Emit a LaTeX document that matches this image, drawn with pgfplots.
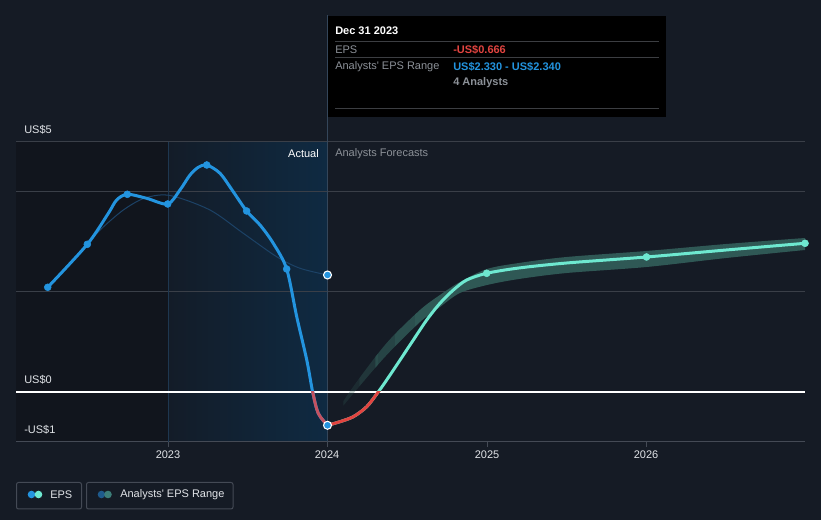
\documentclass[border=0pt]{standalone}
\usepackage{pgfplots}
\pgfplotsset{compat=1.18}
\usepgfplotslibrary{fillbetween}
\usepackage{fontspec}
\setmainfont{Liberation Sans}
\definecolor{bg}{RGB}{21,27,37}
\definecolor{bgdark}{RGB}{17,21,29}
\definecolor{shadeL}{RGB}{19,28,40}
\definecolor{shadeR}{RGB}{15,42,66}
\definecolor{gridc}{RGB}{58,63,72}
\definecolor{axisc}{RGB}{68,74,85}
\definecolor{epsblue}{RGB}{35,148,223}
\definecolor{epsred}{RGB}{226,68,64}
\definecolor{epsredA}{RGB}{196,82,96}
\definecolor{tealc}{RGB}{110,232,208}
\definecolor{bandc}{RGB}{47,88,85}
\definecolor{pastline}{RGB}{28,66,102}
\definecolor{txtgray}{RGB}{140,145,152}
\definecolor{lightc}{RGB}{225,228,232}
\definecolor{vlineA}{RGB}{30,55,80}
\definecolor{vlineB}{RGB}{52,70,90}
\definecolor{sepc}{RGB}{60,62,66}
\definecolor{legdotA}{RGB}{30,90,140}
\definecolor{legdotB}{RGB}{60,125,120}
\newcommand{\fs}{\fontsize{8.25pt}{10pt}\selectfont}
\begin{document}
\begin{tikzpicture}
\begin{scope}[x=0.75pt,y=-0.75pt,yshift=390pt]
\fill[bg] (0,0) rectangle (821,520);
\fill[bgdark] (16,142) rectangle (168,442);
\shade[left color=shadeL,right color=shadeR] (168,142) rectangle (327,442);
\draw[gridc,line width=0.75pt] (16,142) -- (805,142) (16,192) -- (805,192) (16,292) -- (805,292);
\draw[axisc,line width=0.75pt] (16,442) -- (805,442);
\draw[axisc,line width=0.75pt] (168,442) -- (168,447) (327,442) -- (327,447) (487,442) -- (487,447) (646,442) -- (646,447);
\draw[vlineA,line width=0.75pt] (168,142) -- (168,442);
\draw[vlineB,line width=0.75pt] (327,15) -- (327,442);
\draw[white,line width=0.9pt] (16,392) -- (805,392);
\end{scope}
\begin{axis}[at={(0,0)},anchor=south west,scale only axis,width=615.75pt,height=390pt,
  xmin=2021.94671,xmax=2027.09404,ymin=-2.56,ymax=7.84,hide axis,clip=false]
% past analyst estimates
\addplot[pastline,line width=0.75pt,smooth] coordinates {(2022.494,2.954) (2022.574,3.24) (2022.72,3.64) (2022.856,3.88) (2023.013,3.93) (2023.263,3.64) (2023.472,3.174) (2023.681,2.706) (2023.828,2.474) (2024.0,2.34)};
% analysts range band
\addplot[name path=up,draw=none,smooth] coordinates {(2024.0,-0.666) (2024.162,0.11) (2024.371,0.98) (2024.58,1.64) (2024.705,1.94) (2024.83,2.20) (2025.0,2.46) (2025.2,2.58) (2025.5,2.70) (2026.0,2.82) (2026.5,2.96) (2026.994,3.08)};
\addplot[name path=lo,draw=none,smooth] coordinates {(2024.0,-0.666) (2024.162,-0.03) (2024.371,0.74) (2024.58,1.40) (2024.705,1.70) (2024.83,1.98) (2025.0,2.14) (2025.2,2.26) (2025.5,2.38) (2026.0,2.50) (2026.5,2.68) (2026.994,2.84)};
\addplot[bandc,fill opacity=0.08] fill between[of=up and lo,on layer=main,soft clip={domain=2024:2024.1}];
\addplot[bandc,fill opacity=0.22] fill between[of=up and lo,on layer=main,soft clip={domain=2024.1:2024.2}];
\addplot[bandc,fill opacity=0.42] fill between[of=up and lo,on layer=main,soft clip={domain=2024.2:2024.3}];
\addplot[bandc,fill opacity=0.65] fill between[of=up and lo,on layer=main,soft clip={domain=2024.3:2024.42}];
\addplot[bandc,fill opacity=0.85] fill between[of=up and lo,on layer=main,soft clip={domain=2024.42:2024.55}];
\addplot[bandc] fill between[of=up and lo,on layer=main,soft clip={domain=2024.55:2027}];
% actual EPS
\addplot[epsblue,line width=2.25pt,smooth] coordinates {(2022.246,2.094) (2022.494,2.954) (2022.626,3.574) (2022.678,3.84) (2022.745,3.954) (2022.866,3.874) (2022.998,3.76) (2023.075,4.04) (2023.138,4.34) (2023.190,4.494) (2023.243,4.54) (2023.326,4.374) (2023.409,4.006) (2023.493,3.62) (2023.577,3.34) (2023.660,2.974) (2023.744,2.46) (2023.807,1.506) (2023.870,0.64) (2023.907,0) (2023.942,-0.426) (2024.0,-0.666)};
\begin{scope}
\clip (axis cs:2023.7,-2) rectangle (axis cs:2024.01,0);
\addplot[epsredA,line width=2.25pt,smooth] coordinates {(2023.577,3.34) (2023.660,2.974) (2023.744,2.46) (2023.807,1.506) (2023.870,0.64) (2023.907,0) (2023.942,-0.426) (2024.0,-0.666)};
\end{scope}
% forecast EPS
\addplot[tealc,line width=2.25pt,smooth] coordinates {(2024.0,-0.666) (2024.078,-0.594) (2024.162,-0.494) (2024.246,-0.294) (2024.318,0) (2024.371,0.24) (2024.455,0.64) (2024.538,1.04) (2024.622,1.44) (2024.705,1.774) (2024.789,2.04) (2024.873,2.24) (2024.998,2.374) (2025.2,2.48) (2025.5,2.58) (2026.0,2.70) (2026.5,2.84) (2026.994,2.974)};
\begin{scope}
\clip (axis cs:2023.99,-2) rectangle (axis cs:2024.6,0);
\addplot[epsred,line width=2.25pt,smooth] coordinates {(2024.0,-0.666) (2024.078,-0.594) (2024.162,-0.494) (2024.246,-0.294) (2024.318,0) (2024.371,0.24) (2024.455,0.64) (2024.538,1.04)};
\end{scope}
% markers
\addplot[only marks,mark=*,mark size=2.6pt,color=epsblue] coordinates {(2022.246,2.094) (2022.494,2.954) (2022.745,3.954) (2022.998,3.76) (2023.243,4.54) (2023.493,3.62) (2023.744,2.46)};
\addplot[only marks,mark=*,mark size=3pt,mark options={draw=white,fill=epsblue,line width=0.8pt}] coordinates {(2024.0,-0.666) (2024.0,2.34)};
\addplot[only marks,mark=*,mark size=2.6pt,color=tealc] coordinates {(2024.998,2.374) (2026.0,2.70) (2026.994,2.974)};
\end{axis}
\begin{scope}[x=0.75pt,y=-0.75pt,yshift=390pt,every node/.style={inner sep=0pt,font=\fs}]
\node[anchor=west,text=lightc] at (24,130) {US\$5};
\node[anchor=west,text=lightc] at (24,380) {US\$0};
\node[anchor=west,text=lightc] at (24,430) {-US\$1};
\node[text=lightc] at (168,455) {2023};
\node[text=lightc] at (327,455) {2024};
\node[text=lightc] at (487,455) {2025};
\node[text=lightc] at (646,455) {2026};
\node[anchor=east,text=white] at (319,154) {Actual};
\node[anchor=west,text=txtgray] at (335,154) {Analysts Forecasts};
% tooltip
\fill[black] (327.5,16) rectangle (666,117);
\node[anchor=west,text=white,font=\fs\bfseries] at (335,31) {Dec 31 2023};
\draw[sepc,line width=0.75pt] (335,41.5) -- (659,41.5) (335,58) -- (659,58) (335,108.5) -- (659,108.5);
\node[anchor=west,text=txtgray] at (335,50) {EPS};
\node[anchor=west,text=epsred,font=\fs\bfseries] at (453,50) {-US\$0.666};
\node[anchor=west,text=txtgray] at (335,66.5) {Analysts\textquotesingle\ EPS Range};
\node[anchor=west,text=epsblue,font=\fs\bfseries] at (453,66.5) {US\$2.330 - US\$2.340};
\node[anchor=west,text=txtgray,font=\fs\bfseries] at (453,83) {4 Analysts};
% legend
\draw[axisc,line width=0.75pt,rounded corners=1.5pt] (16.5,482.5) rectangle (81.5,509);
\draw[axisc,line width=0.75pt,rounded corners=1.5pt] (86.5,482.5) rectangle (233,509);
\fill[epsblue] (31.5,494.5) circle (3.8);
\fill[tealc] (38.5,494.5) circle (3.8);
\fill[legdotA] (101.5,494.5) circle (3.8);
\fill[legdotB] (108,494.5) circle (3.8);
\node[anchor=west,text=lightc] at (50,494.5) {EPS};
\node[anchor=west,text=lightc] at (120,494.5) {Analysts\textquotesingle\ EPS Range};
\end{scope}
\end{tikzpicture}
\end{document}
